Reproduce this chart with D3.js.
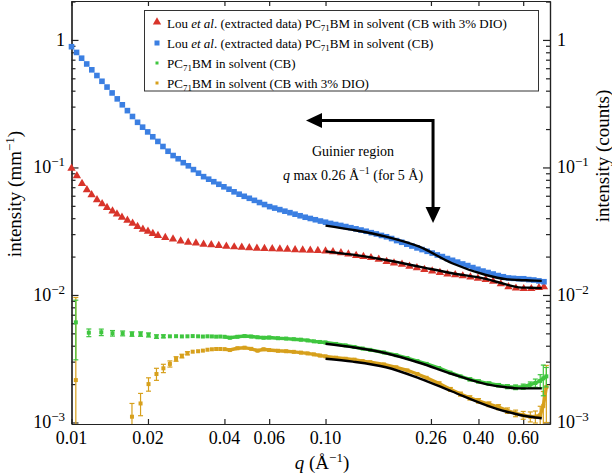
<!DOCTYPE html>
<html>
<head>
<meta charset="utf-8">
<script src="https://cdn.jsdelivr.net/npm/d3@7"></script>
<style>
  body { margin: 0; background: #fff; }
  svg { display: block; }
  svg text { font-family: "Liberation Serif", "Times New Roman", Tinos, Times, "DejaVu Serif", "Noto Serif", "Nimbus Roman", FreeSerif, serif; }
</style>
</head>
<body>
<svg id="chart" width="612" height="474"></svg>
<script>
// Lou et al. extracted data, CB
const qLouCB = [0.01000,0.01047,0.01096,0.01148,0.01202,0.01259,0.01318,0.01380,0.01445,0.01514,
  0.01585,0.01660,0.01738,0.01820,0.01905,0.01995,0.02089,0.02188,0.02291,0.02399,
  0.02512,0.02630,0.02754,0.02884,0.03020,0.03162,0.03311,0.03467,0.03631,0.03802,
  0.03981,0.04169,0.04365,0.04571,0.04786,0.05012,0.05248,0.05495,0.05754,0.06026,
  0.06310,0.06607,0.06918,0.07244,0.07586,0.07943,0.08318,0.08710,0.09120,0.09550,
  0.1000,0.1047,0.1096,0.1148,0.1202,0.1259,0.1318,0.1380,0.1445,0.1514,
  0.1585,0.1660,0.1738,0.1820,0.1905,0.1995,0.2089,0.2188,0.2291,0.2399,
  0.2512,0.2630,0.2754,0.2884,0.3020,0.3162,0.3311,0.3467,0.3631,0.3802,
  0.3981,0.4169,0.4365,0.4571,0.4786,0.5012,0.5248,0.5495,0.5754,0.6026,
  0.6310,0.6607,0.6918,0.7244];
const louCB = [0.885,0.798,0.719,0.648,0.583,0.526,0.474,0.427,0.384,0.345,
  0.310,0.279,0.251,0.226,0.207,0.190,0.174,0.160,0.146,0.134,
  0.124,0.117,0.109,0.103,0.0962,0.0902,0.0847,0.0809,0.0773,0.0738,
  0.0705,0.0675,0.0644,0.0617,0.0594,0.0573,0.0552,0.0531,0.0512,0.0493,
  0.0480,0.0467,0.0454,0.0442,0.0430,0.0418,0.0407,0.0398,0.0389,0.0380,
  0.0372,0.0364,0.0357,0.0351,0.0344,0.0337,0.0330,0.0323,0.0316,0.0308,
  0.0301,0.0293,0.0286,0.0277,0.0267,0.0259,0.0250,0.0242,0.0234,0.0227,
  0.0220,0.0213,0.0206,0.0200,0.0193,0.0187,0.0181,0.0175,0.0170,0.0164,
  0.0159,0.0154,0.0150,0.0146,0.0142,0.0139,0.0136,0.0135,0.0134,0.0134,
  0.0132,0.0131,0.0129,0.0127];

// Lou et al. extracted data, CB with 3% DIO
const qLouDIO = [0.0100,0.0105,0.0110,0.0115,0.0120,0.0126,0.0132,0.0138,0.0145,0.0151,
  0.0158,0.0166,0.0174,0.0182,0.0191,0.0200,0.0209,0.0219,
  0.0234,0.0251,0.0269,0.0288,0.0309,0.0331,0.0355,0.0380,0.0407,0.0437,
  0.0468,0.0501,0.0537,0.0575,0.0617,0.0661,0.0708,0.0759,0.0813,0.0871,
  0.0933,0.100,0.107,0.115,0.123,0.132,0.141,0.151,0.162,0.174,
  0.186,0.200,0.214,0.229,0.245,0.263,0.282,0.302,0.324,0.347,
  0.372,0.398,0.427,0.457,0.490,0.525,0.562,0.603,0.646,0.692,0.724];
const louDIO = [0.0986,0.0859,0.0748,0.0668,0.0610,0.0557,0.0519,0.0484,0.0455,0.0431,
  0.0407,0.0385,0.0364,0.0344,0.0327,0.0316,0.0303,0.0292,
  0.0282,0.0274,0.0265,0.0259,0.0255,0.0250,0.0247,0.0244,0.0241,0.0238,
  0.0236,0.0234,0.0232,0.0231,0.0230,0.0229,0.0228,0.0226,0.0225,0.0224,
  0.0223,0.0221,0.0218,0.0214,0.0209,0.0204,0.0200,0.0196,0.0190,0.0183,
  0.0178,0.0174,0.0168,0.0163,0.0158,0.0154,0.0150,0.0146,0.0144,0.0141,
  0.0138,0.0135,0.0132,0.0128,0.0122,0.0116,0.0113,0.0112,0.0112,0.0114,0.0116];

// measured PC71BM in solvent
const qMeas = [0.0104,0.0117,0.0131,0.0145,0.0159,0.0173,0.0187,0.0201,0.0216,0.0230,
  0.0244,0.0258,0.0272,0.0286,0.0300,0.0315,0.0329,0.0343,0.0357,0.0371,
  0.0385,0.040,0.042,0.045,0.048,0.051,0.054,0.057,0.060,0.065,
  0.070,0.075,0.080,0.085,0.090,0.095,0.100,0.11,0.12,0.13,
  0.14,0.15,0.17,0.19,0.21,0.23,0.25,0.28,0.31,0.34,
  0.37,0.40,0.44,0.48,0.52,0.56,0.60,0.64,0.67,0.70,
  0.72,0.74];
const measCB = [0.0061,0.00506,0.0051,0.00501,0.0050,0.00494,0.00494,0.00486,0.00472,0.00474,
  0.00474,0.00475,0.00473,0.00474,0.00476,0.00474,0.00472,0.00474,0.00473,0.00471,
  0.00472,0.00470,0.00462,0.00470,0.00476,0.00472,0.00466,0.00462,0.00464,0.00458,
  0.00455,0.00450,0.00446,0.00440,0.00433,0.00428,0.00424,0.00413,0.00402,0.00391,
  0.00380,0.00371,0.00354,0.00337,0.00320,0.00303,0.00288,0.00267,0.00246,0.00230,
  0.00218,0.00210,0.00202,0.00196,0.00191,0.00189,0.00191,0.00198,0.00204,0.00212,
  0.00222,0.00230];
const measCBErr = [0.0030,0.00035,0.0003,0.00025,0.00022,0.0002,0.0002,0.00018,0.00015,0.00013,
  0.00012,0.0001,0.0001,0.00009,0.00009,0.00008,0.00008,0.00008,0.00007,0.00007,
  0.00007,0.00007,0.00007,0.00006,0.00006,0.00006,0.00006,0.00006,0.00006,0.00006,
  0.00006,0.00006,0.00006,0.00006,0.00006,0.00006,0.00006,0.00006,0.00006,0.00006,
  0.00006,0.00006,0.00006,0.00006,0.00006,0.00006,0.00006,0.00006,0.00006,0.00006,
  0.00006,0.00006,0.00006,0.00006,0.00007,0.00008,0.00009,0.0001,0.00015,0.00025,
  0.0006,0.0004];
const measDIO = [0.00215,null,null,null,null,0.00111,0.00141,0.0020,0.0024,0.00266,
  0.00288,0.00315,0.00332,0.00349,0.00359,0.00362,0.00366,0.00372,0.00375,0.00377,
  0.00377,0.00376,0.00370,0.00382,0.00386,0.00378,0.00366,0.00375,0.00370,0.00365,
  0.00362,0.00358,0.00353,0.00348,0.00342,0.00335,0.00330,0.00322,0.00316,0.00311,
  0.00303,0.00297,0.00285,0.00271,0.00256,0.00240,0.00224,0.00202,0.00182,0.00167,
  0.00156,0.00148,0.00139,0.00132,0.00124,0.00118,0.00114,0.00111,0.00111,0.00114,
  0.00135,0.0019];
const measDIOErr = [0.0074,0,0,0,0,0.0003,0.00028,0.00024,0.00026,0.0002,
  0.00016,0.00013,0.00011,0.0001,0.00009,0.00008,0.00008,0.00007,0.00007,0.00007,
  0.00006,0.00006,0.00006,0.00006,0.00006,0.00006,0.00006,0.00006,0.00006,0.00006,
  0.00006,0.00006,0.00006,0.00006,0.00006,0.00006,0.00006,0.00006,0.00006,0.00006,
  0.00006,0.00006,0.00006,0.00006,0.00006,0.00006,0.00006,0.00006,0.00006,0.00006,
  0.00006,0.00006,0.00006,0.00006,0.00006,0.00007,0.00008,0.0001,0.00012,0.0002,
  0.0004,0.0009];

// Guinier fits
const qFit = [0.100,0.128,0.173,0.234,0.315,0.428,0.513,0.577,0.640,0.710];
const fitLouCB = [0.0350,0.0324,0.0287,0.0239,0.01773,0.01435,0.0133,0.0131,0.0130,0.0129];
const fitLouDIO = [0.0220,0.0207,0.0188,0.01667,0.01479,0.01337,0.0121,0.01148,0.0114,0.0113];
const fitMeasCB = [0.00414,0.00389,0.00349,0.00294,0.0024,0.0020,0.00189,0.00185,0.00185,0.00185];
const fitMeasDIO = [0.00316,0.0030,0.00271,0.00222,0.00175,0.00137,0.00122,0.00115,0.00111,0.00108];

const xTicks = [0.01,0.02,0.04,0.06,0.10,0.26,0.40,0.60];
const xTickLabels = ["0.01","0.02","0.04","0.06","0.10","0.26","0.40","0.60"];
const yMajor = [1e-3,1e-2,1e-1,1];
const yExp = [-3,-2,-1,0];

const colors = { red: "#d8342a", blue: "#3b7fe2", green: "#3fc63f", gold: "#d7a01c" };

const width = 612, height = 474;
const margin = { top: 1, right: 62, bottom: 50, left: 71.5 };
const svg = d3.select("#chart");

const x = d3.scaleLog()
  .domain([0.01, 0.765])
  .range([margin.left, width - margin.right]);
const y = d3.scaleLog()
  .domain([0.000973, 2.02])
  .range([height - margin.bottom, margin.top]);

const yMinor = [];
yMajor.forEach(d => { for (let k = 2; k <= 9; k++) if (d * k < 2.02) yMinor.push(d * k); });

// axes
const axes = svg.append("g").attr("stroke-width", 1.2);
axes.append("g").attr("transform", `translate(0,${ y.range()[0] })`)
  .call(d3.axisBottom(x).tickValues(xTicks).tickSizeInner(-5).tickSizeOuter(0).tickFormat(""));
axes.append("g").attr("transform", `translate(0,${ margin.top })`)
  .call(d3.axisTop(x).tickValues(xTicks).tickSizeInner(-5).tickSizeOuter(0).tickFormat(""));
axes.append("g").attr("transform", `translate(${ margin.left },0)`)
  .call(d3.axisLeft(y).tickValues(yMajor).tickSizeInner(-7).tickSizeOuter(0).tickFormat(""));
axes.append("g").attr("transform", `translate(${ margin.left },0)`)
  .call(d3.axisLeft(y).tickValues(yMinor).tickSizeInner(-4).tickSizeOuter(0).tickFormat(""));
axes.append("g").attr("transform", `translate(${ width - margin.right },0)`)
  .call(d3.axisRight(y).tickValues(yMajor).tickSizeInner(-7).tickSizeOuter(0).tickFormat(""));
axes.append("g").attr("transform", `translate(${ width - margin.right },0)`)
  .call(d3.axisRight(y).tickValues(yMinor).tickSizeInner(-4).tickSizeOuter(0).tickFormat(""));
axes.selectAll("path.domain").attr("stroke", "#222");
axes.selectAll(".tick line").attr("stroke", "#222");

// x tick labels
svg.append("g").selectAll("text")
  .data(xTicks)
  .join("text")
    .attr("x", d => x(d))
    .attr("y", 444)
    .attr("text-anchor", "middle")
    .attr("font-size", 18)
    .text((d, i) => xTickLabels[i]);

// y tick labels, both sides
function powLabel(sel) {
  sel.each(function(d, i) {
    const t = d3.select(this);
    if (yExp[i] === 0) { t.text("1"); return; }
    t.append("tspan").text("10");
    t.append("tspan").attr("dy", -7).attr("font-size", 13).text("\u2212" + Math.abs(yExp[i]));
  });
}
svg.append("g").selectAll("text")
  .data(yMajor)
  .join("text")
    .attr("x", 65)
    .attr("y", d => y(d) + 6)
    .attr("text-anchor", "end")
    .attr("font-size", 18)
    .call(powLabel);
svg.append("g").selectAll("text")
  .data(yMajor)
  .join("text")
    .attr("x", 557)
    .attr("y", d => y(d) + 6)
    .attr("text-anchor", "start")
    .attr("font-size", 18)
    .call(powLabel);

// axis titles
const yTitle = svg.append("text")
  .attr("transform", "translate(21,194) rotate(-90)")
  .attr("text-anchor", "middle")
  .attr("font-size", 19);
yTitle.append("tspan").text("intensity (mm");
yTitle.append("tspan").attr("dy", -7).attr("font-size", 13).text("\u22121");
yTitle.append("tspan").attr("dy", 7).text(")");

svg.append("text")
  .attr("transform", "translate(609,156) rotate(-90)")
  .attr("text-anchor", "middle")
  .attr("font-size", 19)
  .text("intensity (counts)");

const xTitle = svg.append("text")
  .attr("x", 322)
  .attr("y", 469)
  .attr("text-anchor", "middle")
  .attr("font-size", 19);
xTitle.append("tspan").attr("font-style", "italic").text("q");
xTitle.append("tspan").text(" (\u00c5");
xTitle.append("tspan").attr("dy", -7).attr("font-size", 13).text("\u22121");
xTitle.append("tspan").attr("dy", 7).text(")");

// data
const plot = svg.append("g");

function measured(values, errs, color) {
  const pts = qMeas.map((q, i) => ({ q, v: values[i], e: errs[i] })).filter(d => d.v != null);
  const line = d3.line().x(d => x(d.q)).y(d => y(d.v));
  plot.append("path")
    .datum(pts.filter(d => d.q >= 0.04))
    .attr("d", line)
    .attr("fill", "none")
    .attr("stroke", color)
    .attr("stroke-width", 3.4);
  const g = plot.append("g").attr("stroke", color).attr("stroke-width", 1.2);
  pts.forEach(d => {
    const top = y(d.v + d.e);
    const bot = y(Math.max(d.v - d.e, y.domain()[0]));
    if (bot - top < 3) return;
    g.append("line").attr("x1", x(d.q)).attr("x2", x(d.q)).attr("y1", top).attr("y2", bot);
    g.append("line").attr("x1", x(d.q) - 2.5).attr("x2", x(d.q) + 2.5).attr("y1", top).attr("y2", top);
    if (d.v - d.e > y.domain()[0])
      g.append("line").attr("x1", x(d.q) - 2.5).attr("x2", x(d.q) + 2.5).attr("y1", bot).attr("y2", bot);
  });
  plot.append("g").selectAll("rect")
    .data(pts)
    .join("rect")
      .attr("x", d => x(d.q) - 2)
      .attr("y", d => y(d.v) - 2)
      .attr("width", 4)
      .attr("height", 4)
      .attr("fill", color);
}
measured(measDIO, measDIOErr, colors.gold);
measured(measCB, measCBErr, colors.green);

const tri = d3.symbol().type(d3.symbolTriangle).size(30);
plot.append("g").selectAll("path")
  .data(qLouDIO.map((q, i) => [q, louDIO[i]]))
  .join("path")
    .attr("d", tri)
    .attr("transform", d => `translate(${ x(d[0]) },${ y(d[1]) })`)
    .attr("fill", colors.red);

plot.append("g").selectAll("rect")
  .data(qLouCB.map((q, i) => [q, louCB[i]]))
  .join("rect")
    .attr("x", d => x(d[0]) - 2.8)
    .attr("y", d => y(d[1]) - 2.8)
    .attr("width", 5.6)
    .attr("height", 5.6)
    .attr("fill", colors.blue);

// fits
const fitLine = d3.line().x(d => x(d[0])).y(d => y(d[1])).curve(d3.curveMonotoneX);
[fitLouCB, fitLouDIO, fitMeasCB, fitMeasDIO].forEach(f => {
  plot.append("path")
    .datum(qFit.map((q, i) => [q, f[i]]))
    .attr("d", fitLine)
    .attr("fill", "none")
    .attr("stroke", "#000")
    .attr("stroke-width", 2.4);
});

// Guinier annotation
const corner = [0.265, 0.233];
const leftTip = 0.0838, downTip = 0.0367;
const ann = svg.append("g");
ann.append("path")
  .attr("d", `M${ x(leftTip) + 14 },${ y(corner[1]) } H${ x(corner[0]) } V${ y(downTip) - 14 }`)
  .attr("fill", "none")
  .attr("stroke", "#000")
  .attr("stroke-width", 3);
ann.append("path")
  .attr("d", `M${ x(leftTip) },${ y(corner[1]) } l16,-7.5 v15 z`)
  .attr("fill", "#000");
ann.append("path")
  .attr("d", `M${ x(corner[0]) },${ y(downTip) } l-7.5,-16 h15 z`)
  .attr("fill", "#000");
ann.append("text")
  .attr("x", 353).attr("y", 156)
  .attr("text-anchor", "middle")
  .attr("font-size", 14)
  .text("Guinier region");
const qmax = ann.append("text")
  .attr("x", 353).attr("y", 180)
  .attr("text-anchor", "middle")
  .attr("font-size", 14);
qmax.append("tspan").attr("font-style", "italic").text("q");
qmax.append("tspan").text(" max 0.26 \u00c5");
qmax.append("tspan").attr("dy", -6).attr("font-size", 10).text("\u22121");
qmax.append("tspan").attr("dy", 6).text(" (for 5 \u00c5)");

// legend
const legendRows = [
  { color: colors.red, shape: "tri", lou: true, tail: "(CB with 3% DIO)" },
  { color: colors.blue, shape: "big", lou: true, tail: "(CB)" },
  { color: colors.green, shape: "small", lou: false, tail: "(CB)" },
  { color: colors.gold, shape: "small", lou: false, tail: "(CB with 3% DIO)" }
];
const legend = svg.append("g");
legend.append("rect")
  .attr("x", 144.5).attr("y", 10.5)
  .attr("width", 394).attr("height", 80.5)
  .attr("fill", "#fff")
  .attr("stroke", "#333")
  .attr("stroke-width", 1);
legendRows.forEach((r, i) => {
  const cy = 23 + i * 20;
  if (r.shape === "tri") {
    legend.append("path").attr("d", tri).attr("transform", `translate(157,${ cy - 1 })`).attr("fill", r.color);
  } else {
    const s = r.shape === "big" ? 5 : 3;
    legend.append("rect").attr("x", 157 - s / 2).attr("y", cy - s / 2).attr("width", s).attr("height", s).attr("fill", r.color);
  }
  const t = legend.append("text").attr("x", 167).attr("y", cy + 4.5).attr("font-size", 13);
  if (r.lou) {
    t.append("tspan").text("Lou ");
    t.append("tspan").attr("font-style", "italic").text("et al");
    t.append("tspan").text(". (extracted data) PC");
  } else {
    t.append("tspan").text("PC");
  }
  t.append("tspan").attr("dy", 3).attr("font-size", 9).text("71");
  t.append("tspan").attr("dy", -3).text("BM in solvent " + r.tail);
});
</script>
</body>
</html>
